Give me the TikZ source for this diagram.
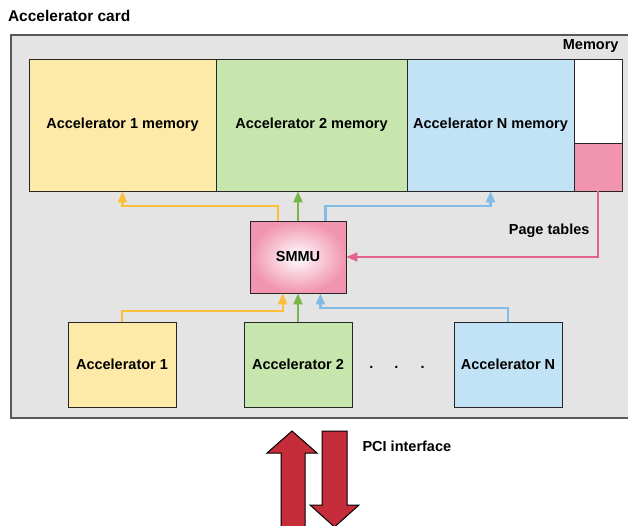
\documentclass[tikz,border=0pt]{standalone}
\usepackage{fontspec}
\setmainfont{Liberation Sans}
\usetikzlibrary{arrows.meta}

\definecolor{cardgrey}{HTML}{E4E4E4}
\definecolor{accyellow}{HTML}{FEEAA8}
\definecolor{accgreen}{HTML}{C7E6AD}
\definecolor{accblue}{HTML}{C2E3F6}
\definecolor{tablepink}{HTML}{F194B0}
\definecolor{lineorange}{HTML}{FBBF3A}
\definecolor{linegreen}{HTML}{79B548}
\definecolor{lineblue}{HTML}{80BCE6}
\definecolor{linepink}{HTML}{E2648C}
\definecolor{pcired}{HTML}{C62D3B}

\tikzset{
  lbl/.style={font=\fontsize{14.5}{17}\selectfont\bfseries},
  membox/.style={lbl, draw=black!85, line width=0.8pt, minimum height=132pt, inner sep=0pt},
  accbox/.style={lbl, draw=black!85, line width=0.8pt, minimum width=108pt, minimum height=85pt, inner sep=0pt},
  flow/.style={line width=2.2pt, -{Triangle[width=9pt,length=11pt]}},
  pciarrow/.style={draw=black, line width=1pt, fill=pcired, line join=miter}
}

\begin{document}
\begin{tikzpicture}[x=1pt, y=-1pt]
	\useasboundingbox (0,0) rectangle (628,525);

	% Card
	\node[lbl, font=\fontsize{15.5}{18}\selectfont\bfseries, anchor=west] (cardlbl) at (4.5,16) {Accelerator card};
	\draw[draw=black!65, line width=1.5pt, fill=cardgrey] (11,35) rectangle (640,418);
	\node[lbl, anchor=east] (memlbl) at (622,46) {Memory};

	% Memory regions
	\node[membox, fill=accyellow, minimum width=187pt] (mem1) at (122.5,125) {Accelerator 1 memory};
	\node[membox, fill=accgreen, minimum width=191pt] (mem2) at (311.5,125) {Accelerator 2 memory};
	\node[membox, fill=accblue, minimum width=167pt] (memN) at (490.5,125) {Accelerator N memory};
	\node[draw=black!85, line width=0.8pt, fill=white, minimum width=48pt, minimum height=84pt, inner sep=0pt] (ptfree) at (598,101) {};
	\node[draw=black!85, line width=0.8pt, fill=tablepink, minimum width=48pt, minimum height=48pt, inner sep=0pt] (pt) at (598,167) {};
	\draw[black!85, line width=1pt] (29,59) rectangle (622,191);

	% SMMU
	\node[lbl, draw=black!85, line width=0.8pt, inner color=white, outer color=tablepink, minimum width=96pt, minimum height=72pt, inner sep=0pt] (smmu) at (298,257) {SMMU};

	% Accelerators
	\node[accbox, fill=accyellow] (acc1) at (122,364.5) {Accelerator 1};
	\node[accbox, fill=accgreen] (acc2) at (298,364.5) {Accelerator 2};
	\node[accbox, fill=accblue] (accN) at (508,364.5) {Accelerator N};
	\node[lbl] (dots) at (397,367) {.\hspace{21pt}.\hspace{22pt}.};

	% SMMU to memory
	\draw[flow, lineorange] ([xshift=28pt]smmu.north west) -- ++(0,-15) -| (mem1.south);
	\draw[flow, linegreen] (smmu.north) -- (smmu.north |- mem2.south);
	\draw[flow, lineblue] ([xshift=-21pt]smmu.north east) -- ++(0,-15) -| (memN.south);

	% Page tables
	\draw[linepink, line width=1.5pt, -{Triangle[width=9pt,length=11pt]}] (pt.south) |- (smmu.east);
	\node[lbl, anchor=east] (ptlbl) at (593,231) {Page tables};

	% Accelerators to SMMU
	\draw[flow, lineorange] (acc1.north) -- ++(0,-11) -| ([xshift=33pt]smmu.south west);
	\draw[flow, linegreen] (acc2.north) -- (smmu.south);
	\draw[flow, lineblue] (accN.north) -- ++(0,-14) -| ([xshift=-26pt]smmu.south east);

	% PCI interface
	\draw[pciarrow] (292,431) -- (317,453) -- (305,453) -- (305,532) -- (281,532) -- (281,453) -- (267,453) -- cycle;
	\draw[pciarrow] (322,431) -- (347,431) -- (347,505) -- (359,505) -- (334.5,527) -- (310,505) -- (322,505) -- cycle;
	\node[lbl, anchor=west] (pcilbl) at (359,446) {PCI interface};
\end{tikzpicture}
\end{document}
